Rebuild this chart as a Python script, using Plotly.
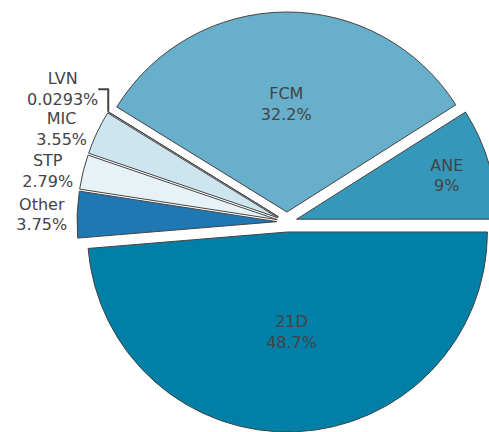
import plotly.graph_objects as go

labels = ["ANE", "FCM", "LVN", "MIC", "STP", "Other", "21D"]
values = [9.0, 32.2, 0.0293, 3.55, 2.79, 3.75, 48.7]
colors = ["#3597ba", "#67afca", "#9ecde0", "#cde5ee", "#e7f2f7", "#1f77b4", "#007fa7"]
positions = ["inside", "inside", "outside", "outside", "outside", "outside", "inside"]

fig = go.Figure(go.Pie(
    labels=labels,
    values=values,
    sort=False,
    direction="counterclockwise",
    rotation=57.6,
    pull=0.05,
    automargin=False,
    textinfo="label+percent",
    textposition=positions,
    insidetextorientation="horizontal",
    marker=dict(colors=colors, line=dict(color="#444", width=1)),
    textfont=dict(family="DejaVu Sans", size=16, color="#444"),
    hoverinfo="label+percent",
))

fig.update_layout(
    width=574,
    height=432,
    margin=dict(l=0, r=0, t=12, b=0, autoexpand=False),
    showlegend=False,
    paper_bgcolor="white",
    font=dict(family="DejaVu Sans", size=16, color="#444"),
)

fig.write_html(
    "out.html",
    post_script="document.body.style.margin='0';document.body.style.overflow='hidden';document.documentElement.style.overflow='hidden';",
)
